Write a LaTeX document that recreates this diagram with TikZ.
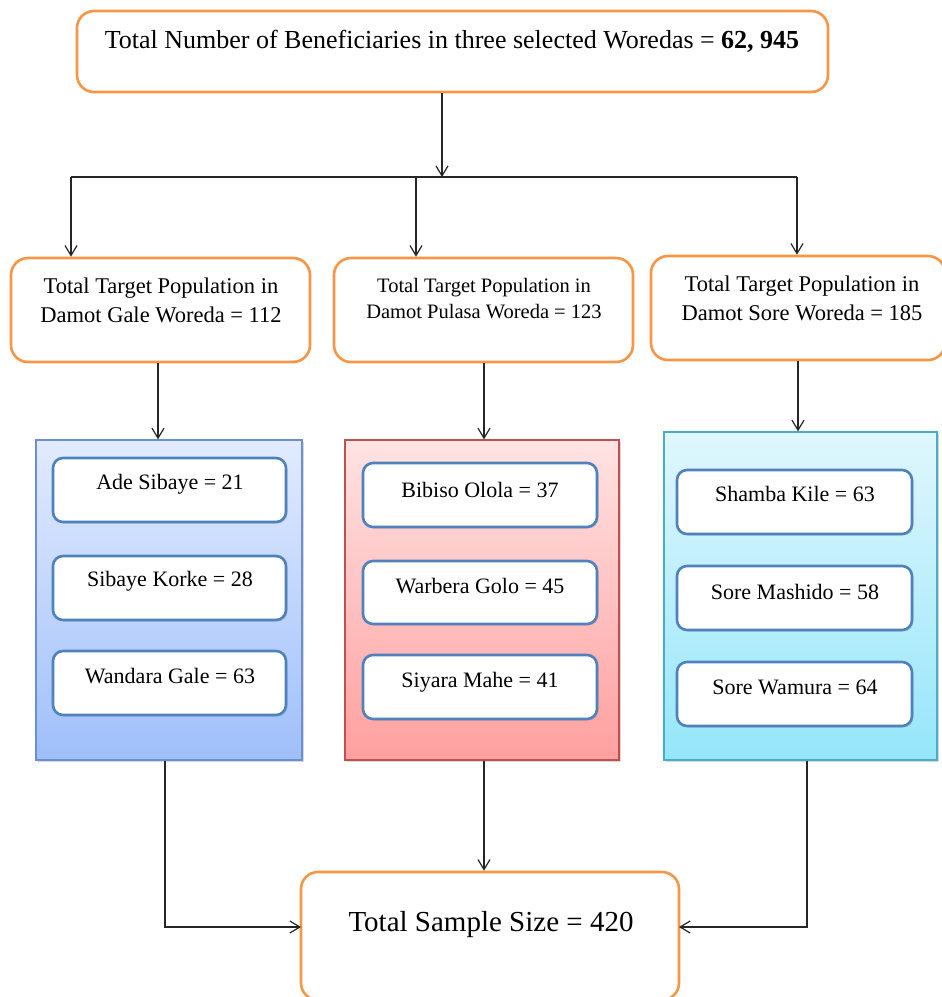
\documentclass[tikz,border=0pt]{standalone}
\usepackage{fontspec}
\setmainfont{Liberation Serif}
\usetikzlibrary{arrows.meta,shadows,calc}
\definecolor{orng}{HTML}{F79646}
\definecolor{ibord}{HTML}{4F81BD}
\definecolor{bbord}{HTML}{6C8FD0}
\definecolor{rbord}{HTML}{C0504D}
\definecolor{cbord}{HTML}{4BACC6}
\definecolor{btop}{HTML}{E2EBFF}
\definecolor{bbot}{HTML}{9FBFFA}
\definecolor{rtop}{HTML}{FFE3E3}
\definecolor{rbot}{HTML}{FF9F9F}
\definecolor{ctop}{HTML}{E0F7FD}
\definecolor{cbot}{HTML}{95E6FA}
\begin{document}
\begin{tikzpicture}[x=1pt,y=-1pt,
  obox/.style={draw=orng, line width=2.6pt, rounded corners=17pt, fill=white, inner sep=0pt},
  ibox/.style={draw=ibord, line width=2.6pt, rounded corners=10pt, fill=white, inner sep=0pt,
     drop shadow={shadow xshift=1.5pt, shadow yshift=-1.5pt, opacity=0.25}},
  panel/.style={line width=1.3pt, inner sep=0pt,
     drop shadow={shadow xshift=2pt, shadow yshift=-2pt, opacity=0.3}},
  conn/.style={draw=black!85, line width=1.2pt},
  arr/.style={conn, -{Straight Barb[length=10pt,width=12pt,line width=1.2pt]}},
  ttop/.style={font=\fontsize{26}{30}\selectfont, inner sep=0pt},
  twor/.style={font=\fontsize{22.5}{29}\selectfont, align=center, inner sep=0pt},
  twom/.style={font=\fontsize{20.5}{26}\selectfont, align=center, inner sep=0pt},
  tin/.style={font=\fontsize{22}{26}\selectfont, inner sep=0pt},
  tbig/.style={font=\fontsize{29}{34}\selectfont, inner sep=0pt}]
\clip (0,0) rectangle (942,997);
\fill[white] (0,0) rectangle (942,997);

% top box
\node[obox, minimum width=751pt, minimum height=81pt] (top) at (452.5,51.5) {};
\node[ttop] (toptxt) at (452,41) {Total Number of Beneficiaries in three selected Woredas = \textbf{62, 945}};

% woreda boxes
\node[obox, minimum width=299pt, minimum height=104pt] (wl) at (160.5,310) {};
\node[obox, minimum width=299pt, minimum height=104pt] (wm) at (483.5,310) {};
\node[obox, minimum width=294pt, minimum height=104pt] (wr) at (798,308) {};
\node[twor] (wltxt) at (161,300) {Total Target Population in\\Damot Gale Woreda = 112};
\node[twom] (wmtxt) at (484,299) {Total Target Population in\\Damot Pulasa Woreda = 123};
\node[twor] (wrtxt) at (802,298) {Total Target Population in\\Damot Sore Woreda = 185};

% bus
\coordinate (j) at (442,177);
\coordinate (bl) at (71,177);
\coordinate (bm) at (416,177);
\coordinate (br) at (797,177);
\draw[arr] (top.south -| j) -- (j);
\draw[conn] (bl) -- (br);
\draw[arr] (bl) -- (wl.north -| bl);
\draw[arr] (bm) -- (wm.north -| bm);
\draw[arr] (br) -- (wr.north -| br);

% panels
\node[panel, draw=bbord, top color=btop, bottom color=bbot, minimum width=266pt, minimum height=320pt] (bp) at (169,600) {};
\node[panel, draw=rbord, top color=rtop, bottom color=rbot, minimum width=274pt, minimum height=320pt] (rp) at (482,600) {};
\node[panel, draw=cbord, top color=ctop, bottom color=cbot, minimum width=273pt, minimum height=328pt] (cp) at (800.5,596) {};

\coordinate (a1) at (158,0);
\coordinate (a2) at (484,0);
\coordinate (a3) at (798,0);
\draw[arr] (wl.south -| a1) -- (bp.north -| a1);
\draw[arr] (wm.south -| a2) -- (rp.north -| a2);
\draw[arr] (wr.south -| a3) -- (cp.north -| a3);

% inner boxes blue
\node[ibox, minimum width=233pt, minimum height=64pt] (b1) at (169.5,490) {};
\node[ibox, minimum width=233pt, minimum height=64pt] (b2) at (169.5,588) {};
\node[ibox, minimum width=233pt, minimum height=64pt] (b3) at (169.5,683) {};
\node[tin] at (170,484) {Ade Sibaye = 21};
\node[tin] at (170,581) {Sibaye Korke = 28};
\node[tin] at (170,676) {Wandara Gale = 63};

% inner boxes red
\node[ibox, minimum width=234pt, minimum height=64pt] (r1) at (480,495) {};
\node[ibox, minimum width=234pt, minimum height=63pt] (r2) at (480,592.5) {};
\node[ibox, minimum width=234pt, minimum height=64pt] (r3) at (480,687) {};
\node[tin] at (480,490) {Bibiso Olola = 37};
\node[tin] at (480,586) {Warbera Golo = 45};
\node[tin] at (480,682) {Siyara Mahe = 41};

% inner boxes cyan
\node[ibox, minimum width=235pt, minimum height=64pt] (c1) at (794.5,502) {};
\node[ibox, minimum width=235pt, minimum height=64pt] (c2) at (794.5,598) {};
\node[ibox, minimum width=235pt, minimum height=64pt] (c3) at (794.5,694) {};
\node[tin] at (795,494) {Shamba Kile = 63};
\node[tin] at (795,592) {Sore Mashido = 58};
\node[tin] at (795,687) {Sore Wamura = 64};

% bottom box
\node[obox, minimum width=378pt, minimum height=128pt] (sample) at (490,936) {};
\node[tbig] (stxt) at (491,925) {Total Sample Size = 420};

\coordinate (lx) at (165,927);
\coordinate (rx) at (807,927);
\coordinate (sl) at (301,927);
\coordinate (sr) at (679,927);
\draw[arr] (bp.south -| lx) |- (sl);
\draw[arr] (rp.south -| a2) -- (sample.north -| a2);
\draw[arr] (cp.south -| rx) |- (sr);
\end{tikzpicture}
\end{document}
